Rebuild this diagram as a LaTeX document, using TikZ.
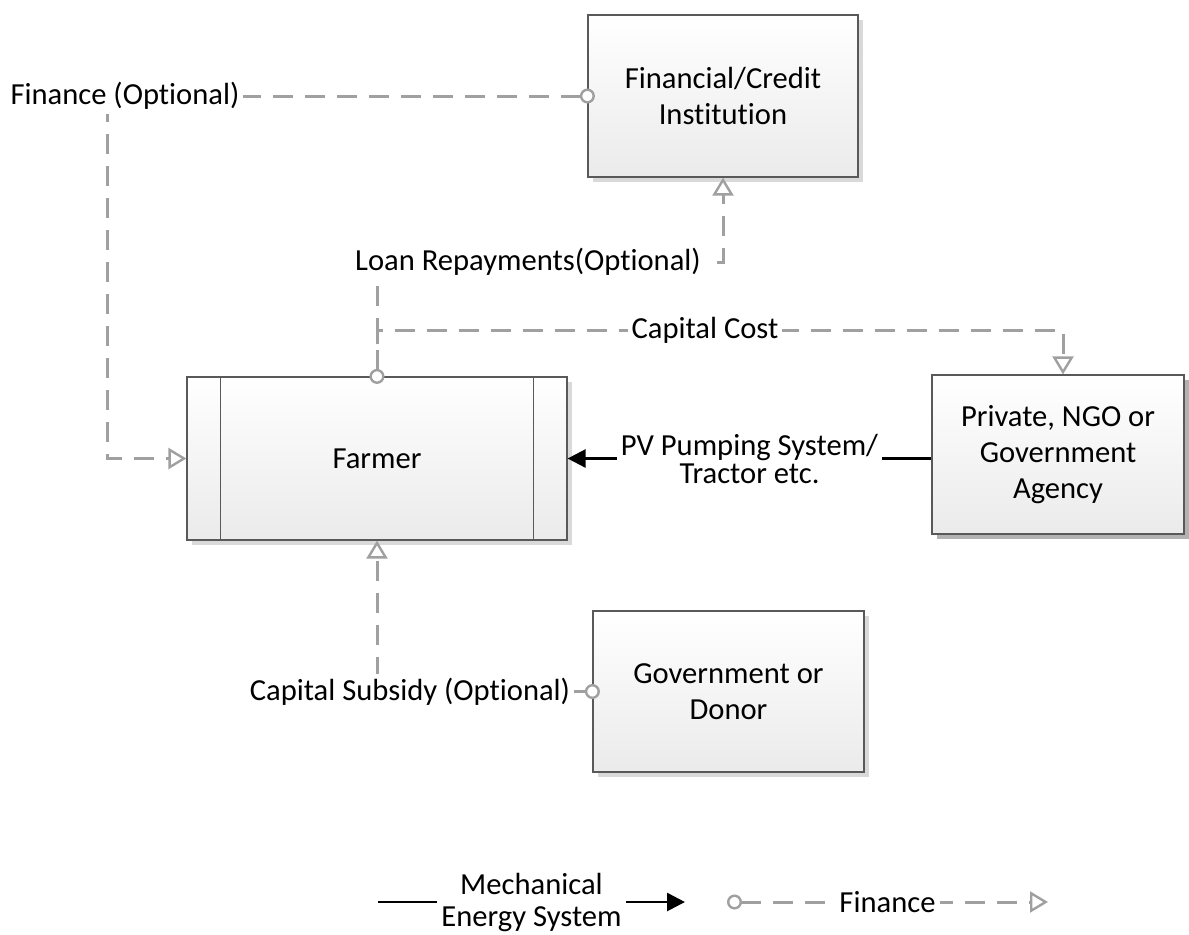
\documentclass[tikz,border=0pt]{standalone}
\usepackage{fontspec}
\setmainfont{Carlito}[Ligatures=NoCommon]
\usetikzlibrary{arrows.meta,shadows,calc}
\definecolor{fline}{HTML}{A0A0A0}
\definecolor{bline}{HTML}{595959}
\begin{document}
\begin{tikzpicture}[x=0.5pt,y=-0.5pt,
  box/.style={draw=bline, line width=0.6pt, shade, top color=white, bottom color=black!8,
    align=center, inner sep=0pt, font=\fontsize{15.3}{18}\selectfont,
    drop shadow={shadow xshift=2.5pt, shadow yshift=-2.5pt, fill=black!15, opacity=1}},
  finline/.style={draw=fline, line width=1.5pt, dash pattern=on 10pt off 6pt},
  mech/.style={draw=black, line width=1.3pt},
  lbl/.style={fill=white, inner sep=2pt, font=\fontsize{15.3}{16}\selectfont, align=center},
  circstart/.style={{Circle[length=7.5pt, fill=white, line width=1.2pt]}-{Triangle[open, length=9pt, width=10.5pt, line width=1.2pt]}, shorten <=-3.75pt},
  opentri/.style={-{Triangle[open, length=9pt, width=10.5pt, line width=1.2pt]}},
  blacktri/.style={-{Triangle[length=9pt, width=9pt]}}
]
\useasboundingbox (0,0) rectangle (1189,934);

% boxes
\node[box, minimum width=135pt, minimum height=81pt] (fin) at (723,96) {Financial/Credit\\Institution};
\node[box, minimum width=190pt, minimum height=81.5pt] (farmer) at (377,458.5) {Farmer};
\draw[draw=bline, line width=0.6pt] ([xshift=17pt]farmer.north west) -- ([xshift=17pt]farmer.south west);
\draw[draw=bline, line width=0.6pt] ([xshift=-17pt]farmer.north east) -- ([xshift=-17pt]farmer.south east);
\node[box, minimum width=126pt, minimum height=79.5pt, drop shadow={shadow xshift=2.5pt, shadow yshift=-2.5pt, fill=black!30, opacity=1}] (priv) at (1058,454.5) {Private, NGO or\\Government\\Agency};
\node[box, minimum width=135.5pt, minimum height=80.5pt] (gov) at (728.5,691.5) {Government or\\Donor};

% Finance (Optional)
\coordinate (c1) at (107,96);
\draw[finline, circstart] (fin.west) -- (c1) |- (farmer.west);
\node[lbl] (l1) at (125,96) {Finance (Optional)};

% Capital cost (shares the start with the loan connector)
\coordinate (cc) at (1063,330);
\draw[finline, opentri] (farmer.north) |- (cc) -- (cc |- priv.north);
\node[lbl] (l3) at (705,330) {Capital Cost};

% Loan repayments
\coordinate (c2) at (377,262);
\draw[finline, circstart] (farmer.north) -- (c2) -| (fin.south);
\node[lbl] (l2) at (528,262) {Loan Repayments(Optional)};

% PV pumping
\draw[mech, blacktri] (farmer.east -| priv.west) -- node[lbl, font=\fontsize{15.3}{14}\selectfont] (l4) {PV Pumping System/\\Tractor etc.} (farmer.east);

% Capital subsidy
\draw[finline, circstart] (gov.west) -| (farmer.south);
\node[lbl] (l5) at (410,691.5) {Capital Subsidy (Optional)};

% legend
\coordinate (m1) at (378,902);
\coordinate (m2) at (685,902);
\draw[mech, blacktri] (m1) -- node[lbl] (l6) {Mechanical\\Energy System} (m2);
\coordinate (f1) at (727,902);
\coordinate (f2) at (1048,902);
\draw[finline, circstart, shorten <=0pt] (f1) -- node[lbl] (l7) {Finance} (f2);
\end{tikzpicture}
\end{document}
